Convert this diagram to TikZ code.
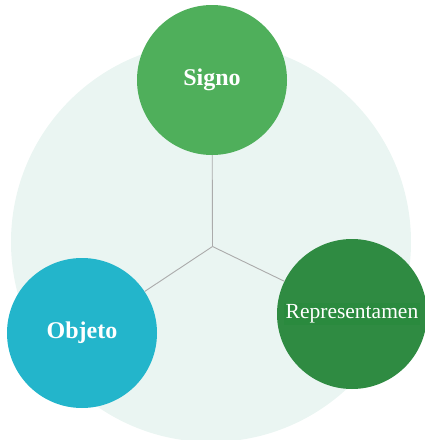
\documentclass[tikz,border=0pt]{standalone}
\usepackage{fontspec}
\setmainfont{Liberation Serif}
\usepackage{xcolor}
\usepackage{tikz}
\usetikzlibrary{positioning}

\definecolor{palebg}{HTML}{EAF5F2}
\definecolor{signogreen}{HTML}{4FAF5B}
\definecolor{reprgreen}{HTML}{2F8B42}
\definecolor{reprband}{HTML}{2A8A3E}
\definecolor{objcyan}{HTML}{23B5CB}
\definecolor{linkgray}{HTML}{ABABAB}

\begin{document}
\begin{tikzpicture}[
      x=1pt, y=-1pt,
      every node/.style={align=center, text=white},
      bubble/.style={circle, minimum size=150pt, inner sep=0pt, draw=none},
      boldlabel/.style={font=\fontsize{24}{28}\selectfont\bfseries},
      link/.style={draw=linkgray, line width=0.9pt}
  ]
  \useasboundingbox (0,0) rectangle (425,440);

  % Background disc
  \fill[palebg] (211,242) circle[radius=200];

  % Nodes ------------------------------------------------
  \coordinate (hub) at (212.5,246.5);
  \node[bubble, fill=signogreen, boldlabel] (signo) at (212,80) {Signo};
  \node[bubble, fill=objcyan, boldlabel]    (objeto) at (82,333) {Objeto};
  \node[bubble, fill=reprgreen]             (repr) at (352,314) {};
  \node[fill=reprband, inner sep=1.5pt, font=\fontsize{21.5}{24}\selectfont] (reprtext) at (repr) {Representamen};

  % Links ------------------------------------------------
  \draw[link] (hub) -- (signo);
  \draw[link] (hub) -- (objeto);
  \draw[link] (hub) -- (repr);
\end{tikzpicture}
\end{document}
